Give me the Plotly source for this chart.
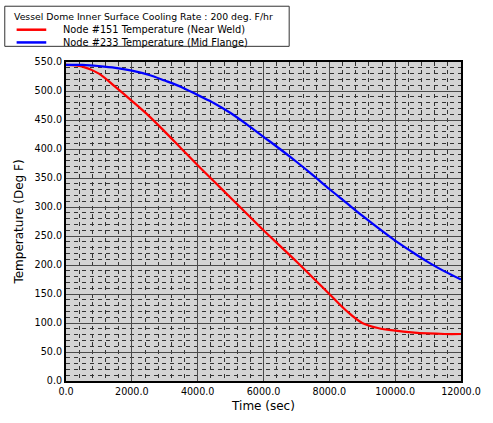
import plotly.graph_objects as go

time_s = [0, 500, 1000, 1500, 2000, 2500, 3000, 3500, 4000, 4500, 5000, 5500, 6000, 6500, 7000, 7500, 8000, 8500, 9000, 9500, 10000, 10500, 11000, 11500, 12000]
node151 = [545, 542, 530, 507, 483, 458, 430, 401, 372, 344, 316, 288, 260, 233, 206, 178, 150, 122, 100, 91, 87, 84, 82, 81, 81]
node233 = [545, 545, 543, 540, 535, 528, 518, 507, 493, 479, 462, 442, 421, 400, 378, 355, 331, 308, 285, 263, 242, 223, 205, 189, 175]

legend_title = "Vessel Dome Inner Surface Cooling Rate : 200 deg. F/hr"
name151 = "Node #151 Temperature (Near Weld)"
name233 = "Node #233 Temperature (Mid Flange)"
colors = ["#ff0000", "#0000ff"]

fig = go.Figure()
fig.add_trace(go.Scatter(x=time_s, y=node151, mode="lines", name=name151,
                         line=dict(color=colors[0], width=2.2, shape="spline")))
fig.add_trace(go.Scatter(x=time_s, y=node233, mode="lines", name=name233,
                         line=dict(color=colors[1], width=2.2, shape="spline")))

font = "DejaVu Sans, Verdana, sans-serif"
axis_common = dict(
    showline=True, linecolor="black", linewidth=2, mirror=True,
    gridcolor="#4a4a4a", gridwidth=1,
    zeroline=False, ticks="", tickfont=dict(size=9.6, color="black", family=font),
    tickformat=".1f",
)
fig.update_xaxes(range=[0, 12000], dtick=2000, tick0=0,
                 title=dict(text="Time (sec)", font=dict(size=12, family=font, color="black"), standoff=6),
                 minor=dict(dtick=400, showgrid=True, gridcolor="#333333", griddash="4px,4px", gridwidth=1),
                 **axis_common)
fig.update_yaxes(range=[0, 550], dtick=50, tick0=0,
                 title=dict(text="Temperature (Deg F)", font=dict(size=12, family=font, color="black"), standoff=8),
                 minor=dict(dtick=10, showgrid=True, gridcolor="#333333", griddash="4px,4px", gridwidth=1),
                 **axis_common)

# Manual legend box (layout placement in pixels converted to paper coords)
L, R, T, B = 66, 466, 62, 388
W, H = R - L, B - T
def px(x):
    return (x - L) / W
def py(y):
    return (B - y) / H

shapes = [dict(type="rect", xref="paper", yref="paper",
               x0=px(4), x1=px(292), y0=py(46), y1=py(5),
               line=dict(color="#333333", width=1), fillcolor="white", layer="above")]
annotations = [dict(xref="paper", yref="paper", x=px(11), y=py(15), xanchor="left", yanchor="middle",
                    text=legend_title, showarrow=False, font=dict(size=9.3, family=font, color="black"))]
for i, (nm, c) in enumerate([(name151, colors[0]), (name233, colors[1])]):
    yy = 29 + i * 13
    shapes.append(dict(type="line", xref="paper", yref="paper",
                       x0=px(16), x1=px(46), y0=py(yy), y1=py(yy),
                       line=dict(color=c, width=2.5)))
    annotations.append(dict(xref="paper", yref="paper", x=px(61), y=py(yy), xanchor="left", yanchor="middle",
                            text=nm, showarrow=False, font=dict(size=9.8, family=font, color="black")))

fig.update_layout(
    width=493, height=423,
    margin=dict(l=L, r=493 - R, t=T, b=423 - B),
    plot_bgcolor="#d4d4d4", paper_bgcolor="white",
    font=dict(family=font, size=9.6, color="black"),
    showlegend=False,
    shapes=shapes, annotations=annotations,
)

fig.write_html("out.html")
